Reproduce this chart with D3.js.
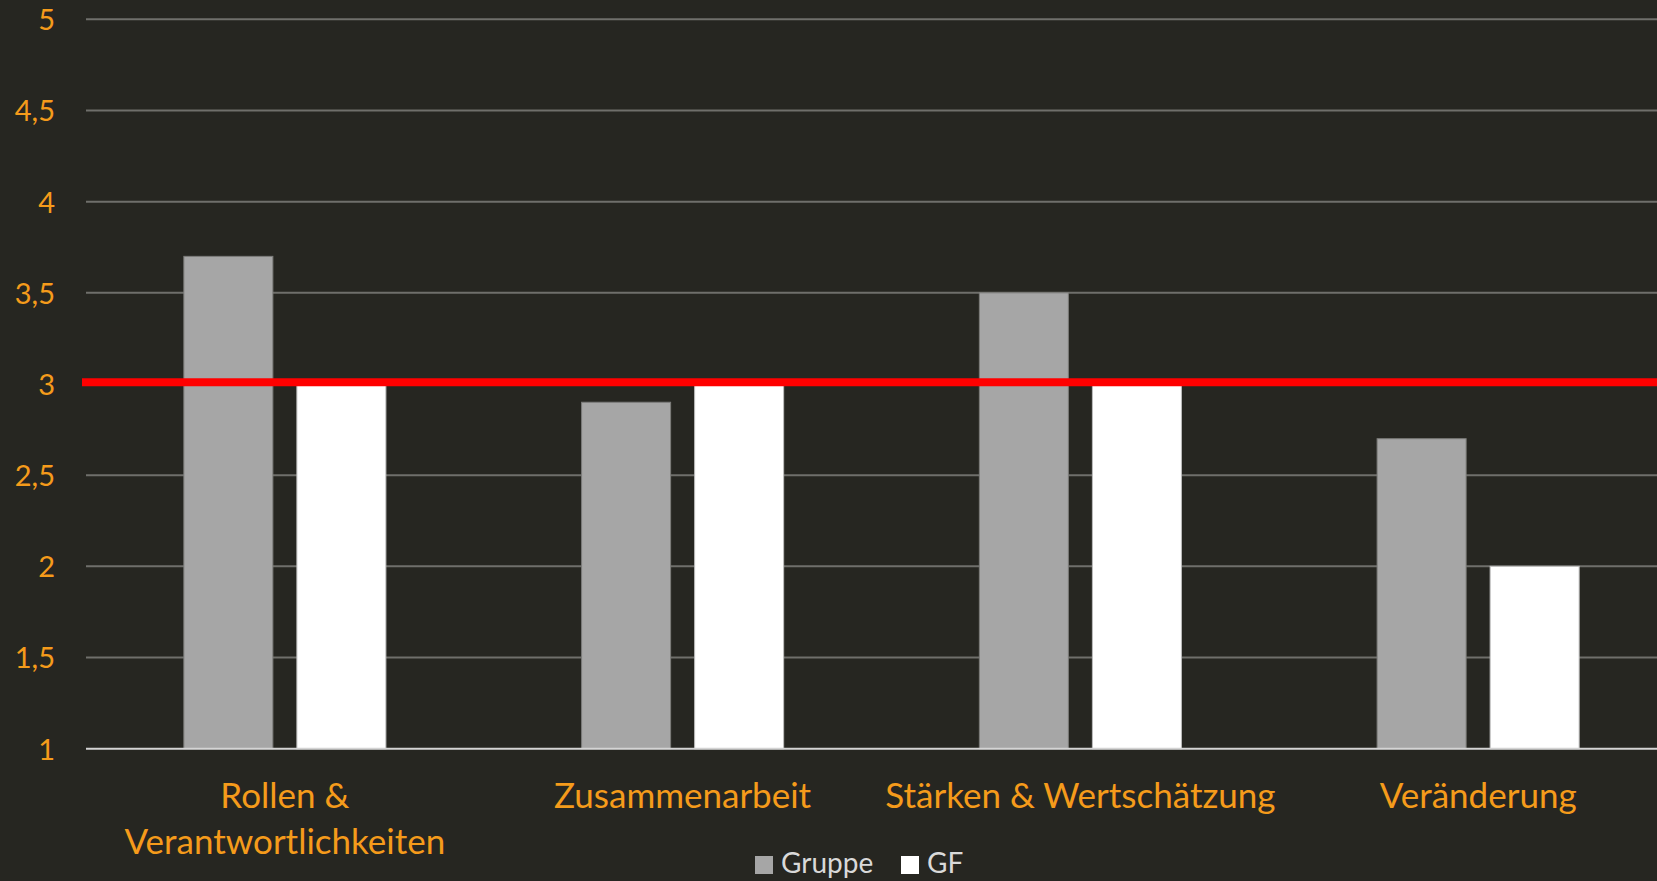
<!DOCTYPE html>
<html>
<head>
<meta charset="utf-8">
<script src="https://cdn.jsdelivr.net/npm/d3@7"></script>
<style>
  html, body { margin: 0; padding: 0; background: #262621; }
  svg { display: block; }
</style>
</head>
<body>
<svg id="chart" width="1657" height="881"></svg>
<script>
// --- data ---
const categories = ["Rollen & Verantwortlichkeiten", "Zusammenarbeit", "Stärken & Wertschätzung", "Veränderung"];
const seriesNames = ["Gruppe", "GF"];
const gruppe = [3.7, 2.9, 3.5, 2.7];
const gf = [3, 3, 3, 2];
const yTicks = [1, 1.5, 2, 2.5, 3, 3.5, 4, 4.5, 5];
const threshold = 3.01;

const colors = { Gruppe: "#a6a6a6", GF: "#ffffff" };
const orange = "#f59b1b";

// --- layout ---
const width = 1657, height = 881;
const margin = { top: 19.3, left: 86, bottom: 132.3 };
const plotRight = 1677; // plot area runs slightly past the window

const svg = d3.select("#chart");

const x = d3.scaleBand()
    .domain(categories)
    .range([margin.left, plotRight])
    .paddingInner(0.492)
    .paddingOuter(0.246);

const xSub = d3.scaleBand()
    .domain(seriesNames)
    .range([0, x.bandwidth()])
    .paddingInner(0.2124);

const y = d3.scaleLinear()
    .domain([1, 5])
    .range([height - margin.bottom, margin.top]);

const de = d3.formatLocale({ decimal: ",", thousands: ".", grouping: [3], currency: ["", " €"] });
const fmt = de.format("~g");

// --- grid ---
svg.append("g")
    .selectAll("line")
    .data(yTicks.filter(d => d !== 1))
    .join("line")
    .attr("x1", margin.left)
    .attr("x2", plotRight)
    .attr("y1", d => y(d))
    .attr("y2", d => y(d))
    .attr("stroke", "#6f6f6b")
    .attr("stroke-width", 2);

// --- y axis labels ---
const yAxis = svg.append("g")
    .attr("transform", `translate(${margin.left},0)`)
    .call(d3.axisLeft(y).tickValues(yTicks).tickFormat(fmt).tickSize(0).tickPadding(31));
yAxis.select(".domain").remove();
yAxis.selectAll("text")
    .attr("fill", orange)
    .style("font-family", "Lato, sans-serif")
    .style("font-size", "29px")
    .attr("dy", "0.36em");

// --- bars ---
const rows = categories.map((c, i) => ({ cat: c, values: [
    { key: "Gruppe", value: gruppe[i] },
    { key: "GF", value: gf[i] }
]}));

svg.append("g")
    .selectAll("g")
    .data(rows)
    .join("g")
    .attr("transform", d => `translate(${x(d.cat)},0)`)
    .selectAll("rect")
    .data(d => d.values)
    .join("rect")
    .attr("x", d => xSub(d.key))
    .attr("width", xSub.bandwidth())
    .attr("y", d => y(d.value))
    .attr("height", d => y(1) - y(d.value))
    .attr("fill", d => colors[d.key])
    .attr("stroke", d => d.key === "Gruppe" ? "#7c7c7a" : "#bdbdbd")
    .attr("stroke-width", 1);

// --- baseline ---
svg.append("line")
    .attr("x1", margin.left)
    .attr("x2", plotRight)
    .attr("y1", y(1))
    .attr("y2", y(1))
    .attr("stroke", "#d4d4d4")
    .attr("stroke-width", 2);

// --- threshold line ---
svg.append("line")
    .attr("x1", margin.left)
    .attr("x2", plotRight)
    .attr("y1", y(threshold))
    .attr("y2", y(threshold))
    .attr("stroke", "#ff0000")
    .attr("stroke-width", 8)
    .attr("stroke-linecap", "square");

// --- category labels ---
const catLabels = svg.append("g")
    .selectAll("text")
    .data(categories)
    .join("text")
    .attr("x", d => x(d) + x.bandwidth() / 2)
    .attr("y", y(1) + 59)
    .attr("text-anchor", "middle")
    .attr("fill", orange)
    .style("font-family", "Lato, sans-serif")
    .style("font-size", "35px");

catLabels.each(function(d) {
    const t = d3.select(this);
    const maxW = x.step();
    const words = d.split(" ");
    let line = [], lines = [];
    const probe = t.append("tspan");
    words.forEach(w => {
        const test = line.concat(w).join(" ");
        probe.text(test);
        if (probe.node().getComputedTextLength() > maxW && line.length) {
            lines.push(line.join(" "));
            line = [w];
        } else {
            line.push(w);
        }
    });
    lines.push(line.join(" "));
    probe.remove();
    lines.forEach((l, i) => {
        t.append("tspan")
            .attr("x", t.attr("x"))
            .attr("dy", i === 0 ? 0 : 46)
            .text(l);
    });
});

// --- legend ---
const legend = svg.append("g").attr("transform", "translate(755,856)");
const legendItems = legend.selectAll("g")
    .data(seriesNames)
    .join("g")
    .attr("transform", (d, i) => `translate(${i * 146},0)`);
legendItems.append("rect")
    .attr("width", 18)
    .attr("height", 18)
    .attr("fill", d => colors[d]);
legendItems.append("text")
    .attr("x", 26)
    .attr("y", 17)
    .attr("fill", "#d9d9d9")
    .style("font-family", "Lato, sans-serif")
    .style("font-size", "28px")
    .text(d => d);
</script>
</body>
</html>
